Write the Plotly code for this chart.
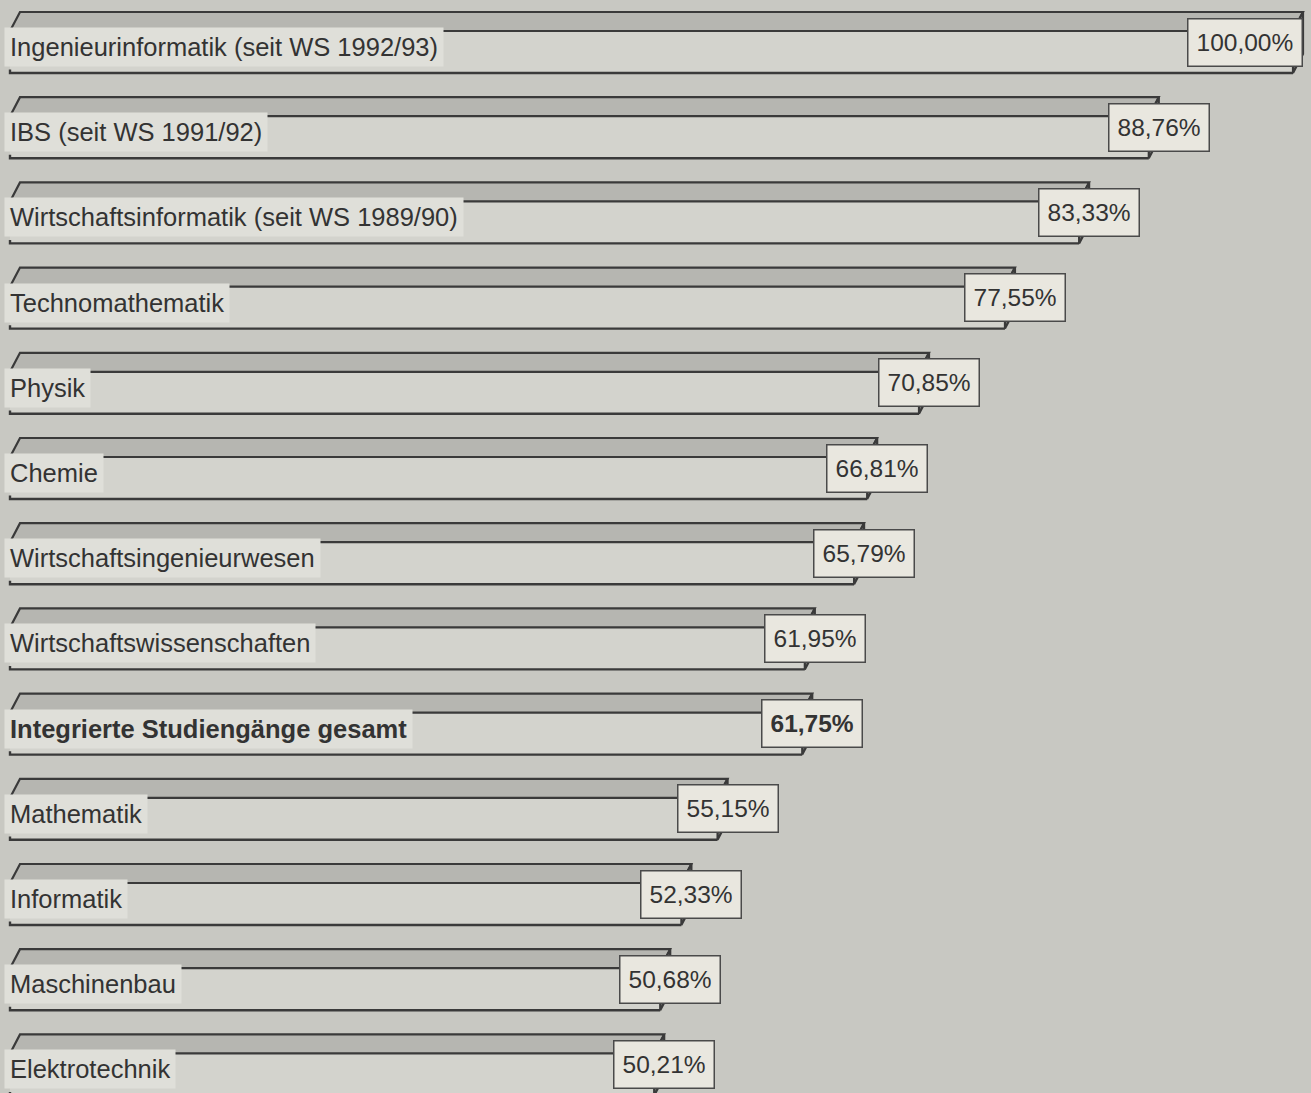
import plotly.graph_objects as go

categories = [
    "Ingenieurinformatik (seit WS 1992/93)",
    "IBS (seit WS 1991/92)",
    "Wirtschaftsinformatik (seit WS 1989/90)",
    "Technomathematik",
    "Physik",
    "Chemie",
    "Wirtschaftsingenieurwesen",
    "Wirtschaftswissenschaften",
    "Integrierte Studiengänge gesamt",
    "Mathematik",
    "Informatik",
    "Maschinenbau",
    "Elektrotechnik",
]
values = [100.00, 88.76, 83.33, 77.55, 70.85, 66.81, 65.79, 61.95, 61.75, 55.15, 52.33, 50.68, 50.21]
bold_rows = ["Integrierte Studiengänge gesamt"]

W, H = 1311, 1093
X0_PX, X_SCALE = 10.0, 12.83          # pixel of value 0, pixels per percent
Y0_PX, Y_SCALE = 52.0, 85.2           # pixel of row 0 centre, pixels per row
x_range = [(0 - X0_PX) / X_SCALE, (W - X0_PX) / X_SCALE]
y_range = [(H - Y0_PX) / Y_SCALE, (0 - Y0_PX) / Y_SCALE]

DX = 10 / X_SCALE      # depth offset (x, in % units)
DY = 19 / Y_SCALE      # depth offset (y, in row units)
BAR_W = 42 / Y_SCALE   # front face height in row units

BG = "#c8c8c2"
FRONT = "#d3d3cd"
TOP = "#b6b6b1"
SIDE = "#7d7d79"
LINE = "#3a3a3a"
TXT = "#333333"
FONT = "Arial, Liberation Sans, Helvetica, sans-serif"

rows = list(range(len(categories)))

fig = go.Figure()

# front faces
fig.add_trace(go.Bar(
    x=values, y=rows, orientation="h", base=0, width=BAR_W,
    marker=dict(color=FRONT, line=dict(width=0)),
    hoverinfo="skip", showlegend=False,
))

# top faces, side faces, bottom edges
for i, v in enumerate(values):
    ft = i - BAR_W / 2
    fb = i + BAR_W / 2
    fig.add_trace(go.Scatter(
        x=[0, v, v + DX, DX, 0], y=[ft, ft, ft - DY, ft - DY, ft],
        mode="lines", fill="toself", fillcolor=TOP,
        line=dict(color=LINE, width=2.2), hoverinfo="skip", showlegend=False,
    ))
    fig.add_trace(go.Scatter(
        x=[v, v + DX, v + DX, v, v], y=[ft, ft - DY, fb - DY, fb, ft],
        mode="lines", fill="toself", fillcolor=SIDE,
        line=dict(color=LINE, width=2.2), hoverinfo="skip", showlegend=False,
    ))
    fig.add_trace(go.Scatter(
        x=[0, 0, v], y=[fb - 0.04, fb, fb],
        mode="lines", line=dict(color=LINE, width=2.4),
        hoverinfo="skip", showlegend=False,
    ))

# category labels
for i, c in enumerate(categories):
    txt = f"<b>{c}</b>" if c in bold_rows else c
    fig.add_annotation(
        x=0, y=i - 5 / Y_SCALE, xref="x", yref="y", xanchor="left", yanchor="middle",
        text=txt, showarrow=False, font=dict(family=FONT, size=25.5, color=TXT),
        bgcolor="#dfdfd9", borderpad=5, xshift=-6,
    )

# value boxes
for i, (c, v) in enumerate(zip(categories, values)):
    s = f"{v:.2f}".replace(".", ",") + "%"
    txt = f"<b>{s}</b>" if c in bold_rows else s
    end = v + DX
    half_box = 58 / X_SCALE
    anchor = "right" if end + half_box > x_range[1] else "center"
    fig.add_annotation(
        x=end, y=i - 10 / Y_SCALE, xref="x", yref="y", xanchor=anchor, yanchor="middle",
        text=txt, showarrow=False, font=dict(family=FONT, size=24.5, color=TXT),
        bgcolor="#e9e7df", bordercolor="#4a4a4a", borderwidth=1.5, borderpad=8,
        height=30,
    )

fig.update_layout(
    width=W, height=H,
    margin=dict(l=0, r=0, t=0, b=0),
    paper_bgcolor=BG, plot_bgcolor=BG,
    xaxis=dict(range=x_range, visible=False, fixedrange=True),
    yaxis=dict(range=y_range, visible=False, fixedrange=True),
    bargap=0, showlegend=False,
)

fig.write_html(
    "out.html",
    config={"displayModeBar": False, "staticPlot": True},
    post_script="document.body.style.margin='0';document.body.style.background='%s';" % BG,
)
